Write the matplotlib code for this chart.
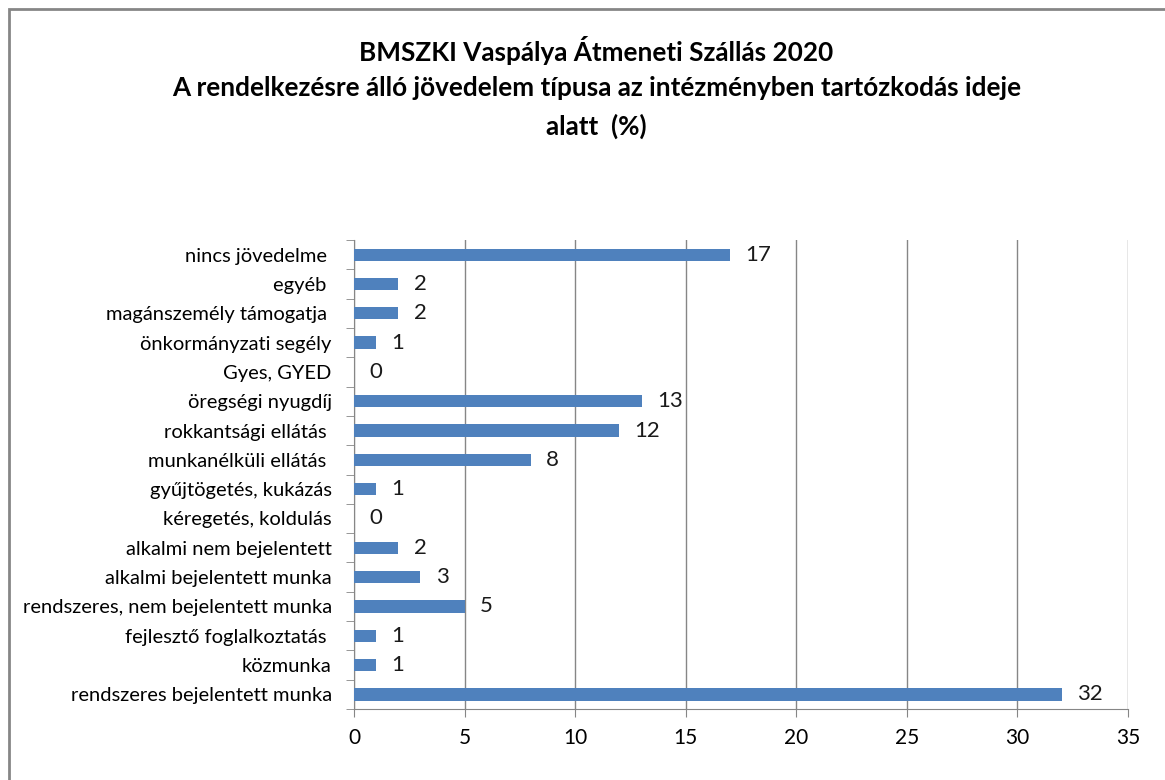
import matplotlib
matplotlib.use("Agg")
import matplotlib.pyplot as plt
import numpy as np
from matplotlib.patches import Rectangle

# adatok alulrol felfele
kategoriak = [
    "rendszeres bejelentett munka",
    "közmunka",
    "fejlesztő foglalkoztatás ",
    "rendszeres, nem bejelentett munka",
    "alkalmi bejelentett munka",
    "alkalmi nem bejelentett",
    "kéregetés, koldulás",
    "gyűjtögetés, kukázás",
    "munkanélküli ellátás ",
    "rokkantsági ellátás ",
    "öregségi nyugdíj",
    "Gyes, GYED",
    "önkormányzati segély",
    "magánszemély támogatja ",
    "egyéb ",
    "nincs jövedelme ",
]
ertekek = [32, 1, 1, 5, 3, 2, 0, 1, 8, 12, 13, 0, 1, 2, 2, 17]
xticks = [0, 5, 10, 15, 20, 25, 30, 35]

plt.rcParams["font.family"] = ["Lato", "DejaVu Sans"]

fig = plt.figure(figsize=(11.65, 7.8), dpi=100)
ax = fig.add_axes([0.3039, 0.091, 0.6644, 0.6013])

# keret a kep korul
fig.patches.append(Rectangle((9 / 1165, -0.1), 1.2, 1 - 9 / 780 + 0.1,
                             transform=fig.transFigure, fill=False,
                             edgecolor="#868686", linewidth=2))

y = np.arange(len(kategoriak))
ax.barh(y, ertekek, height=0.42, color="#4F81BD", zorder=3)

for yi, v in zip(y, ertekek):
    ax.annotate(str(v), (v, yi), xytext=(11, 0), textcoords="offset points",
                va="center", ha="left", fontsize=16, color="#1a1a1a")

ax.set_xlim(0, 35)
ax.set_ylim(-0.5, len(kategoriak) - 0.5)
ax.set_xticks(xticks)
ax.set_xticklabels([str(t) for t in xticks], fontsize=15)
ax.set_yticks(y)
ax.set_yticklabels(kategoriak, fontsize=14.5)
ax.tick_params(axis="y", length=0, pad=16)
ax.set_yticks(np.arange(-0.5, len(kategoriak), 1), minor=True)
ax.tick_params(axis="y", which="minor", length=6, color="#868686", direction="out")
ax.tick_params(axis="x", length=6, color="#868686", direction="out", pad=8)

ax.grid(axis="x", color="#868686", linewidth=1, zorder=0)
for s in ["top", "right"]:
    ax.spines[s].set_visible(False)
for s in ["left", "bottom"]:
    ax.spines[s].set_color("#868686")

cim = ["BMSZKI Vaspálya Átmeneti Szállás 2020",
       "A rendelkezésre álló jövedelem típusa az intézményben tartózkodás ideje",
       "alatt  (%)"]
for sor, ypos in zip(cim, [0.935, 0.887, 0.838]):
    fig.text(0.512, ypos, sor, ha="center", va="center", fontsize=18.8,
             fontweight="bold")

fig.savefig("out.png", dpi=100)
